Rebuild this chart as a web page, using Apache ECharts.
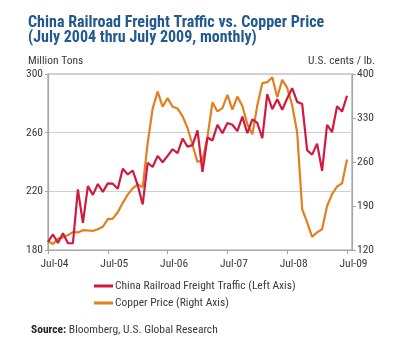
<!DOCTYPE html>
<html>
<head>
<meta charset="utf-8">
<script src="https://cdn.jsdelivr.net/npm/echarts@6/dist/echarts.min.js"></script>
<style>
html,body{margin:0;padding:0;background:#fff;}
#chart{width:403px;height:358px;}
</style>
</head>
<body>
<div id="chart"></div>
<script>
var xTickLabels = ['Jul-04', 'Jul-05', 'Jul-06', 'Jul-07', 'Jul-08', 'Jul-09'];
var xTickMonths = [0, 12, 24, 36, 48, 60];
var leftTicks = [180, 220, 260, 300];
var rightTicks = [120, 190, 260, 330, 400];

// China Railroad Freight Traffic, million tons, monthly Jul-04 .. Jul-09
var freight = [
  185.6, 190.6, 184.8, 191.5, 184.6, 184.6, 221.3, 198.5, 223.6, 217.6,
  225.0, 219.6, 225.4, 225.2, 221.8, 235.4, 231.5, 234.2, 224.2, 211.1,
  239.5, 236.6, 244.2, 239.8, 244.2, 248.7, 246.0, 256.0, 250.5, 251.5,
  261.5, 233.3, 256.7, 254.7, 265.4, 259.6, 266.6, 265.4, 261.0, 270.9,
  259.6, 269.1, 266.6, 256.2, 286.2, 276.0, 282.8, 275.6, 283.5, 290.3,
  281.0, 279.6, 248.0, 245.0, 252.5, 234.0, 265.4, 260.4, 278.0, 274.4,
  285.2
];
// Copper price, U.S. cents / lb., monthly Jul-04 .. Jul-09
var copper = [
  134, 129.5, 138, 140, 143.7, 148.5, 148, 151.5, 151, 150.5,
  153, 157, 169, 170, 180, 195, 208, 218, 224.4, 220,
  290, 345, 372, 348, 361.6, 348, 345, 333, 314, 287,
  260, 263, 300, 355, 340.4, 345.8, 366.8, 343.3, 364, 349,
  320, 304, 350, 385.4, 387, 394.8, 363, 390.6, 378, 350,
  307, 185, 164, 141, 148, 153, 190, 209, 221, 226,
  264
];

var FONT = "'Roboto Condensed', 'DejaVu Sans Condensed', sans-serif";
var TXT = '#3a3a3a';
var AXIS = '#a6a6a6';
var FS = 11.5;

function pairs(arr) { return arr.map(function (v, i) { return [i, v]; }); }

var chart = echarts.init(document.getElementById('chart'), null, {renderer: 'canvas'});
chart.setOption({
  animation: false,
  backgroundColor: '#ffffff',
  textStyle: {fontFamily: FONT},
  title: {
    text: 'China Railroad Freight Traffic vs. Copper Price\n(July 2004 thru July 2009, monthly)',
    left: 28, top: 15, padding: 0,
    textStyle: {fontFamily: FONT, fontSize: 16, fontWeight: 'bold', color: '#23598f', lineHeight: 15.5}
  },
  grid: {left: 48, right: 51, top: 74, bottom: 108, show: true, borderColor: AXIS, borderWidth: 1.2},
  xAxis: {
    type: 'value', min: 0, max: 61,
    axisLine: {show: true, lineStyle: {color: AXIS, width: 1.2}},
    axisTick: {show: true, length: 4, lineStyle: {color: AXIS}, customValues: xTickMonths},
    axisLabel: {
      customValues: xTickMonths, margin: 8, fontSize: FS, color: TXT, fontFamily: FONT,
      padding: [0, 0, 0, 13],
      formatter: function (v) { return xTickLabels[xTickMonths.indexOf(Math.round(v))] || ''; }
    },
    splitLine: {show: false}
  },
  yAxis: [{
    type: 'value', min: leftTicks[0], max: leftTicks[leftTicks.length - 1], interval: 40,
    position: 'left',
    axisLine: {show: true, lineStyle: {color: AXIS, width: 1.2}},
    axisTick: {show: true, length: 3, lineStyle: {color: AXIS}},
    axisLabel: {margin: 5, fontSize: FS, color: TXT, fontFamily: FONT},
    splitLine: {show: true, lineStyle: {color: '#cfcfcf', width: 1.2}}
  }, {
    type: 'value', min: rightTicks[0], max: rightTicks[rightTicks.length - 1], interval: 70,
    position: 'right',
    axisLine: {show: true, lineStyle: {color: AXIS, width: 1.2}},
    axisTick: {show: true, length: 4, lineStyle: {color: AXIS}},
    axisLabel: {margin: 5, fontSize: FS, color: TXT, fontFamily: FONT},
    splitLine: {show: false}
  }],
  legend: {
    orient: 'vertical', left: 94, top: 280, itemWidth: 19, itemHeight: 3, itemGap: 5,
    icon: 'rect', padding: 0,
    textStyle: {fontSize: FS, color: TXT, fontFamily: FONT, padding: [0, 0, 0, -3]},
    data: ['China Railroad Freight Traffic (Left Axis)', 'Copper Price (Right Axis)']
  },
  graphic: [
    {type: 'text', left: 28, top: 55, style: {text: 'Million Tons', fontSize: FS, fill: TXT, fontFamily: FONT}},
    {type: 'text', right: 28, top: 55, style: {text: 'U.S. cents / lb.', fontSize: FS, fill: TXT, fontFamily: FONT, textAlign: 'right'}},
    {type: 'text', left: 31, top: 324, style: {
      text: '{b|Source:} Bloomberg, U.S. Global Research',
      fontSize: FS, fill: TXT, fontFamily: FONT,
      rich: {b: {fontWeight: 'bold', fontSize: FS, fill: '#222', fontFamily: FONT}}
    }}
  ],
  series: [{
    name: 'China Railroad Freight Traffic (Left Axis)', type: 'line', yAxisIndex: 0,
    data: pairs(freight), showSymbol: false, color: '#d01a3f',
    lineStyle: {width: 2.2, color: '#d01a3f'}, z: 3
  }, {
    name: 'Copper Price (Right Axis)', type: 'line', yAxisIndex: 1,
    data: pairs(copper), showSymbol: false, color: '#e37f1e',
    lineStyle: {width: 2.2, color: '#e37f1e'}, z: 2
  }]
});
</script>
</body>
</html>
